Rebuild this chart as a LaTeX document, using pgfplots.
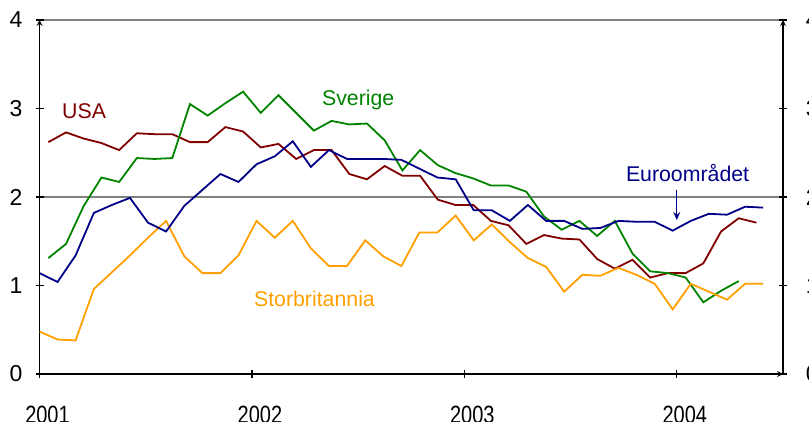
\documentclass[border=0pt]{standalone}
\usepackage{pgfplots}
\pgfplotsset{compat=1.18}
\usepackage{pgfplotstable}
\usepackage{fontspec}
\setmainfont{Liberation Sans}
\newfontfamily\narrowfont[FakeStretch=0.80]{Liberation Sans}
\usetikzlibrary{arrows.meta}

\definecolor{usared}{RGB}{128,0,0}
\definecolor{swegreen}{RGB}{0,132,0}
\definecolor{euroblue}{RGB}{0,0,135}
\definecolor{ukorange}{RGB}{255,160,0}

% euroområdet och storbritannien
\pgfplotstableread{
m     euro  uk
0.00  1.14  0.48
1.02  1.04  0.39
2.04  1.34  0.38
3.07  1.82  0.96
4.09  1.91  1.15
5.11  1.99  1.34
6.13  1.71  1.54
7.15  1.61  1.73
8.18  1.90  1.33
9.20  2.08  1.14
10.22 2.26  1.14
11.24 2.17  1.34
12.26 2.37  1.73
13.29 2.46  1.54
14.31 2.63  1.73
15.33 2.34  1.42
16.35 2.53  1.22
17.37 2.43  1.22
18.40 2.43  1.51
19.42 2.43  1.33
20.44 2.42  1.22
21.46 2.32  1.60
22.48 2.22  1.60
23.51 2.20  1.79
24.53 1.85  1.51
25.55 1.85  1.69
26.57 1.73  1.49
27.59 1.91  1.31
28.62 1.73  1.21
29.64 1.73  0.93
30.66 1.64  1.12
31.68 1.65  1.11
32.70 1.73  1.20
33.73 1.72  1.12
34.75 1.72  1.02
35.77 1.62  0.73
36.79 1.73  1.02
37.81 1.81  0.93
38.84 1.80  0.84
39.86 1.89  1.02
40.88 1.88  1.02
}\eurouk

% USA och Sverige
\pgfplotstableread{
m     usa   swe
0.5   2.62  1.31
1.5   2.73  1.47
2.5   2.66  1.90
3.5   2.61  2.22
4.5   2.53  2.17
5.5   2.72  2.44
6.5   2.71  2.43
7.5   2.71  2.44
8.5   2.62  3.05
9.5   2.62  2.92
10.5  2.79  3.06
11.5  2.74  3.19
12.5  2.56  2.95
13.5  2.60  3.15
14.5  2.43  2.95
15.5  2.53  2.75
16.5  2.53  2.86
17.5  2.26  2.82
18.5  2.20  2.83
19.5  2.35  2.64
20.5  2.24  2.30
21.5  2.24  2.53
22.5  1.97  2.36
23.5  1.91  2.27
24.5  1.91  2.21
25.5  1.73  2.13
26.5  1.68  2.13
27.5  1.47  2.06
28.5  1.57  1.78
29.5  1.53  1.63
30.5  1.52  1.73
31.5  1.30  1.56
32.5  1.19  1.73
33.5  1.29  1.36
34.5  1.09  1.16
35.5  1.14  1.14
36.5  1.14  1.09
37.5  1.25  0.81
38.5  1.61  0.94
39.5  1.76  1.05
40.5  1.71  nan
}\usaswe

\begin{document}
\begin{tikzpicture}
\pgfplotsset{
  frame/.style={
    at={(39.5pt,47pt)}, anchor=south west,
    width=743.5pt, height=354pt, scale only axis,
    xmin=0, xmax=42, ymin=0, ymax=4,
    axis line style={black, line width=1.6pt, -},
    every outer x axis line/.append style={-},
    every outer y axis line/.append style={-},
    every inner x axis line/.append style={-},
    every inner y axis line/.append style={-},
    tick align=inside, major tick length=8pt,
    tick style={black, line width=1.2pt},
    ytick={0,1,2,3,4}, yticklabels={0,1,2,3,4},
    yticklabel style={font=\fontsize{23}{23}\selectfont, inner sep=0pt},
  },
}
\begin{axis}[
  frame,
  axis x line=bottom, axis y line=left,
  xtick={0,12,24,36}, xticklabels={2001,2002,2003,2004},
  xticklabel style={font=\narrowfont\fontsize{25}{25}\selectfont, anchor=north,
    inner sep=0pt, yshift=-27.5pt, xshift=8pt},
  yticklabel style={anchor=east, xshift=-13pt},
  extra y ticks={2,4}, extra y tick labels={},
  extra y tick style={grid=major, major grid style={gray, line width=1.3pt}},
  every axis plot/.append style={line width=1.8pt},
]
\addplot[usared] table[x=m, y=usa] {\usaswe};
\addplot[swegreen] table[x=m, y=swe] {\usaswe};
\addplot[ukorange] table[x=m, y=uk] {\eurouk};
\addplot[euroblue] table[x=m, y=euro] {\eurouk};

\node[anchor=base west, inner sep=0pt, text=usared, font=\fontsize{21.3}{24}\selectfont] at (axis cs:1.27,2.89) {USA};
\node[anchor=base west, inner sep=0pt, text=swegreen, font=\fontsize{21.3}{24}\selectfont] at (axis cs:15.95,3.03) {Sverige};
\node[anchor=base west, inner sep=0pt, text=euroblue, font=\fontsize{21.3}{24}\selectfont] at (axis cs:33.12,2.18) {Euroområdet};
\node[anchor=base west, inner sep=0pt, text=ukorange, font=\fontsize{21.3}{24}\selectfont] at (axis cs:12.11,0.76) {Storbritannia};
\draw[euroblue, line width=1pt, -{Stealth[length=8pt,width=7pt]}] (axis cs:36,2.08) -- (axis cs:36,1.74);
\end{axis}
\begin{axis}[
  frame,
  axis x line=none, axis y line=right,
  yticklabel style={anchor=west, xshift=18.7pt},
]
\end{axis}
\pgfresetboundingbox
\path[use as bounding box] (0,0) rectangle (809pt,421pt);
\end{tikzpicture}
\end{document}
